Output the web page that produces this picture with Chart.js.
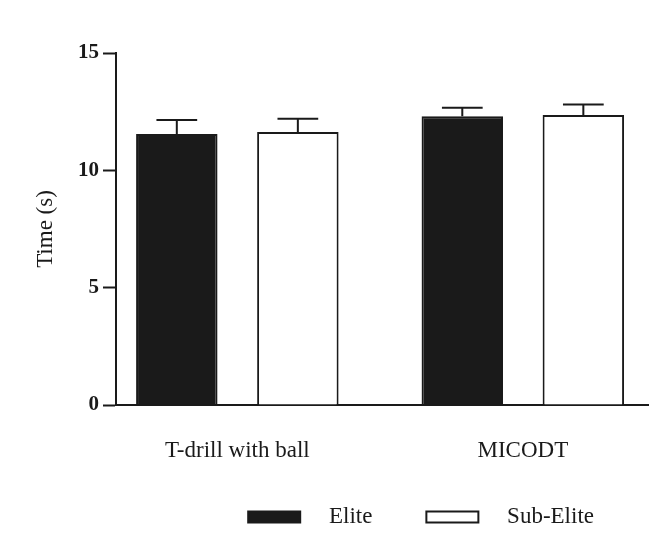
<!DOCTYPE html>
<html>
<head>
<meta charset="utf-8">
<script src="https://cdn.jsdelivr.net/npm/chart.js@4/dist/chart.umd.min.js"></script>
<style>
  html, body { margin: 0; padding: 0; background: #ffffff; }
  #wrap { width: 670px; height: 552px; }
</style>
</head>
<body>
<div id="wrap"><canvas id="c" width="670" height="552"></canvas></div>
<script>
const categories = ['T-drill with ball', 'MICODT'];
const seriesNames = ['Elite', 'Sub-Elite'];
const eliteMeans = [11.55, 12.30];
const eliteErrors = [0.60, 0.37];
const subEliteMeans = [11.63, 12.36];
const subEliteErrors = [0.57, 0.45];
const yTickValues = [0, 5, 10, 15];

const ink = '#1a1a1a';
const serif = '"Liberation Serif", "Times New Roman", serif';

const toPoints = arr => arr.map((v, i) => ({ x: i, y: v }));

const errorBars = {
  id: 'errorBars',
  afterDatasetsDraw(chart) {
    const { ctx, scales: { y } } = chart;
    chart.data.datasets.forEach((ds, di) => {
      const meta = chart.getDatasetMeta(di);
      meta.data.forEach((bar, i) => {
        const v = ds.data[i].y;
        const e = ds.errors[i];
        const yTop = y.getPixelForValue(v + e);
        const yBar = y.getPixelForValue(v);
        const half = bar.width * 0.25;
        ctx.save();
        ctx.strokeStyle = ink;
        ctx.lineWidth = 2;
        ctx.beginPath();
        ctx.moveTo(bar.x, yBar);
        ctx.lineTo(bar.x, yTop);
        ctx.moveTo(bar.x - half, yTop);
        ctx.lineTo(bar.x + half, yTop);
        ctx.stroke();
        ctx.restore();
      });
    });
  }
};

new Chart(document.getElementById('c'), {
  type: 'bar',
  data: {
    datasets: [
      {
        label: seriesNames[0],
        data: toPoints(eliteMeans),
        errors: eliteErrors,
        backgroundColor: ink,
        borderColor: ink,
        borderWidth: 2
      },
      {
        label: seriesNames[1],
        data: toPoints(subEliteMeans),
        errors: subEliteErrors,
        backgroundColor: '#ffffff',
        borderColor: ink,
        borderWidth: 2
      }
    ]
  },
  options: {
    responsive: false,
    animation: false,
    devicePixelRatio: 1,
    categoryPercentage: 0.848,
    barPercentage: 0.673,
    layout: { padding: { top: 53, right: 22, bottom: 13.5, left: 0 } },
    plugins: {
      tooltip: { enabled: false },
      legend: {
        position: 'bottom',
        align: 'end',
        fullSize: false,
        labels: {
          boxWidth: 52,
          boxHeight: 11,
          padding: 42.5,
          color: ink,
          font: { family: serif, size: 23 },
          generateLabels(chart) {
            return Chart.defaults.plugins.legend.labels.generateLabels(chart)
              .map(l => Object.assign({}, l, { text: '   ' + l.text + '  ' }));
          }
        }
      }
    },
    scales: {
      x: {
        type: 'linear',
        offset: false,
        min: -0.425,
        max: 1.4385,
        grid: { display: false, offset: false },
        border: { display: true, color: ink, width: 2 },
        afterBuildTicks(scale) {
          scale.ticks = categories.map((c, i) => ({ value: i }));
        },
        afterFit(scale) { scale.height = 58; },
        ticks: {
          padding: 24,
          color: ink,
          maxRotation: 0,
          autoSkip: false,
          font: { family: serif, size: 23 },
          callback: (value) => categories[value]
        }
      },
      y: {
        min: 0,
        max: 15,
        afterBuildTicks(scale) {
          scale.ticks = yTickValues.map(v => ({ value: v }));
        },
        afterFit(scale) { scale.width = 116; },
        grid: {
          display: true,
          drawOnChartArea: false,
          drawTicks: true,
          tickLength: 13,
          tickWidth: 2,
          tickColor: ink
        },
        border: { display: true, color: ink, width: 2 },
        ticks: {
          padding: 4,
          color: ink,
          font: { family: serif, size: 21, weight: 'bold' }
        },
        title: {
          display: true,
          text: 'Time (s)',
          color: ink,
          padding: { top: 32, bottom: 0 },
          font: { family: serif, size: 23 }
        }
      }
    }
  },
  plugins: [errorBars]
});
</script>
</body>
</html>
